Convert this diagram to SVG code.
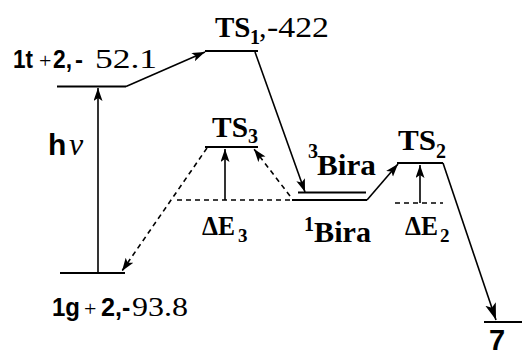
<svg xmlns="http://www.w3.org/2000/svg" width="523" height="355" viewBox="0 0 523 355">
<style>
.lvl{stroke:#000;stroke-width:2;fill:none}
.ln{stroke:#000;stroke-width:1.6;fill:none}
.dash{stroke:#000;stroke-width:1.6;fill:none;stroke-dasharray:5,4}
</style>
<defs>
<marker id="ah" markerUnits="userSpaceOnUse" markerWidth="14" markerHeight="10" refX="13" refY="4.5" orient="auto">
<path d="M0,0 L13,4.5 L0,9 L3,4.5 z" fill="#000"/>
</marker>
<marker id="ahb" markerUnits="userSpaceOnUse" markerWidth="18" markerHeight="12" refX="17" refY="5.5" orient="auto">
<path d="M0,0 L17,5.5 L0,11 L4,5.5 z" fill="#000"/>
</marker>
</defs>
<g id="connectors">
<line class="ln" x1="98" y1="273" x2="98" y2="88" marker-end="url(#ah)"/>
<line class="ln" x1="126" y1="86.5" x2="205" y2="52" marker-end="url(#ah)"/>
<line class="ln" x1="255" y1="52" x2="305" y2="192" marker-end="url(#ah)"/>
<line class="ln" x1="367" y1="200" x2="398" y2="164" marker-end="url(#ah)"/>
<line class="ln" x1="443" y1="163" x2="496" y2="320" marker-end="url(#ahb)"/>
<line class="ln" x1="420" y1="203" x2="420" y2="165" marker-end="url(#ah)"/>
<line class="ln" x1="225" y1="200" x2="225" y2="149" marker-end="url(#ah)"/>
<line class="dash" x1="290" y1="196" x2="254" y2="149" marker-end="url(#ah)"/>
<line class="dash" x1="207" y1="148" x2="122" y2="271" marker-end="url(#ah)"/>
<line class="dash" x1="177" y1="200" x2="292" y2="200"/>
<line class="dash" x1="395" y1="203" x2="443" y2="203"/>
</g>
<g id="n1t2" fill="#000">
<line class="lvl" x1="57" y1="86.5" x2="126" y2="86.5"/>
<text font-family="Liberation Sans, Arimo, Arial, sans-serif" font-weight="bold" x="13" y="68" font-size="25" textLength="20" lengthAdjust="spacingAndGlyphs">1t</text>
<text font-family="Liberation Serif, DejaVu Serif, serif" x="39" y="68" font-size="22">+</text>
<text font-family="Liberation Sans, Arimo, Arial, sans-serif" font-weight="bold" x="53" y="68" font-size="25" textLength="19" lengthAdjust="spacingAndGlyphs">2,</text>
<text font-family="Liberation Sans, Arimo, Arial, sans-serif" font-weight="bold" x="75" y="68" font-size="24">-</text>
<text font-family="Liberation Serif, DejaVu Serif, serif" x="95" y="68" font-size="27" textLength="62" lengthAdjust="spacingAndGlyphs">52.1</text>
</g>
<g id="nhv" fill="#000">
<text font-family="Liberation Sans, Arimo, Arial, sans-serif" font-weight="bold" x="48" y="155" font-size="30">h</text>
<text font-family="Liberation Serif, DejaVu Serif, serif" x="69" y="155" font-size="32" font-style="italic">ν</text>
</g>
<g id="n1g2" fill="#000">
<line class="lvl" x1="60" y1="273" x2="125" y2="273"/>
<text font-family="Liberation Sans, Arimo, Arial, sans-serif" font-weight="bold" x="52" y="316" font-size="26" textLength="28" lengthAdjust="spacingAndGlyphs">1g</text>
<text font-family="Liberation Serif, DejaVu Serif, serif" x="84" y="316" font-size="22">+</text>
<text font-family="Liberation Sans, Arimo, Arial, sans-serif" font-weight="bold" x="101" y="316" font-size="26" textLength="21" lengthAdjust="spacingAndGlyphs">2,</text>
<text font-family="Liberation Sans, Arimo, Arial, sans-serif" font-weight="bold" x="122" y="316" font-size="25">-</text>
<text font-family="Liberation Serif, DejaVu Serif, serif" x="132" y="316" font-size="27" textLength="56" lengthAdjust="spacingAndGlyphs">93.8</text>
</g>
<g id="nTS1" fill="#000">
<line class="lvl" x1="205" y1="51" x2="258" y2="51"/>
<text font-family="Liberation Serif, DejaVu Serif, serif" font-weight="bold" x="215" y="37" font-size="29">TS<tspan x="250" dy="7" font-size="20">1</tspan><tspan x="259" dy="-7" font-weight="normal" font-size="30">,</tspan></text>
<text font-family="Liberation Serif, DejaVu Serif, serif" x="267" y="37" font-size="30" textLength="62" lengthAdjust="spacingAndGlyphs">-422</text>
</g>
<g id="nTS3" fill="#000">
<line class="lvl" x1="205" y1="147" x2="258" y2="147"/>
<text font-family="Liberation Serif, DejaVu Serif, serif" font-weight="bold" x="212" y="137" font-size="30" textLength="36" lengthAdjust="spacingAndGlyphs">TS</text>
<text font-family="Liberation Serif, DejaVu Serif, serif" font-weight="bold" x="248" y="143" font-size="20">3</text>
</g>
<g id="nDE3" fill="#000">
<text font-family="Liberation Serif, DejaVu Serif, serif" font-weight="bold" x="202" y="235" font-size="27" textLength="33" lengthAdjust="spacingAndGlyphs">ΔE</text>
<text font-family="Liberation Serif, DejaVu Serif, serif" font-weight="bold" x="238" y="242" font-size="19">3</text>
</g>
<g id="nBira3" fill="#000">
<line class="lvl" x1="298" y1="192.5" x2="366" y2="192.5"/>
<text font-family="Liberation Serif, DejaVu Serif, serif" font-weight="bold" x="308" y="158" font-size="20">3</text>
<text font-family="Liberation Serif, DejaVu Serif, serif" font-weight="bold" x="317" y="175" font-size="30" textLength="59" lengthAdjust="spacingAndGlyphs">Bira</text>
</g>
<g id="nBira1" fill="#000">
<line class="lvl" x1="292" y1="200" x2="367" y2="200"/>
<text font-family="Liberation Serif, DejaVu Serif, serif" font-weight="bold" x="304" y="231" font-size="20">1</text>
<text font-family="Liberation Serif, DejaVu Serif, serif" font-weight="bold" x="314" y="242" font-size="30" textLength="57" lengthAdjust="spacingAndGlyphs">Bira</text>
</g>
<g id="nTS2" fill="#000">
<line class="lvl" x1="397" y1="163" x2="443" y2="163"/>
<text font-family="Liberation Serif, DejaVu Serif, serif" font-weight="bold" x="398" y="150" font-size="30" textLength="38" lengthAdjust="spacingAndGlyphs">TS</text>
<text font-family="Liberation Serif, DejaVu Serif, serif" font-weight="bold" x="436" y="158" font-size="20">2</text>
</g>
<g id="nDE2" fill="#000">
<text font-family="Liberation Serif, DejaVu Serif, serif" font-weight="bold" x="405" y="235" font-size="27" textLength="33" lengthAdjust="spacingAndGlyphs">ΔE</text>
<text font-family="Liberation Serif, DejaVu Serif, serif" font-weight="bold" x="440" y="242" font-size="19">2</text>
</g>
<g id="n7" fill="#000">
<line class="lvl" x1="484" y1="322" x2="522" y2="322"/>
<text font-family="Liberation Sans, Arimo, Arial, sans-serif" font-weight="bold" x="489" y="350" font-size="29">7</text>
</g>
</svg>
